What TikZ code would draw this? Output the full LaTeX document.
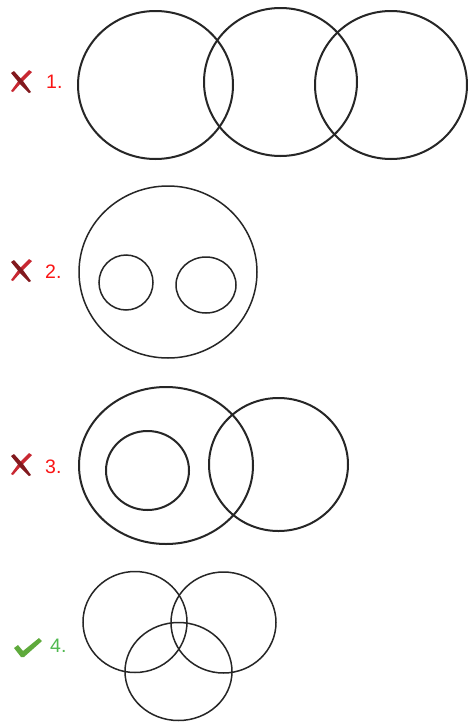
\documentclass[tikz,border=0pt]{standalone}
\usepackage{fontspec}
\setmainfont{Liberation Sans}
\definecolor{badred}{RGB}{250,20,20}
\definecolor{goodgreen}{RGB}{80,185,80}
\definecolor{xred}{RGB}{200,40,50}
\definecolor{xdark}{RGB}{130,25,30}
\definecolor{chk}{RGB}{95,170,60}
\begin{document}
\begin{tikzpicture}[x=1pt,y=-1pt,
  thick ring/.style={draw=black!85,line width=2pt},
  thin ring/.style={draw=black!85,line width=1.5pt},
  badlabel/.style={anchor=west,inner sep=0pt,text=badred,font=\fontsize{19.5}{22}\selectfont},
  goodlabel/.style={anchor=west,inner sep=0pt,text=goodgreen,font=\fontsize{19.5}{22}\selectfont},
  xmark/.style={fill=xred,draw=none},
  xmarkdark/.style={fill=xdark,draw=none},
  cmark/.style={fill=chk,draw=none}]
\useasboundingbox[fill=white] (0,0) rectangle (467,723);

% --- row 1 ---
\draw[thick ring] (155.5,85) ellipse [x radius=77.5,y radius=74];
\draw[thick ring] (280.5,82) ellipse [x radius=76.5,y radius=74];
\draw[thick ring] (391,85) ellipse [x radius=76,y radius=74];
\node[badlabel] (l1) at (46,82) {1.};

% --- row 2 ---
\draw[thin ring] (168,272) ellipse [x radius=89,y radius=86];
\draw[thin ring] (126,282.5) ellipse [x radius=27,y radius=27.5];
\draw[thin ring] (206,285) ellipse [x radius=30,y radius=28];
\node[badlabel] (l2) at (45,271.5) {2.};

% --- row 3 ---
\draw[thick ring] (166,465.5) ellipse [x radius=87,y radius=78.5];
\draw[thick ring] (147.5,470.5) ellipse [x radius=41.5,y radius=39.5];
\draw[thick ring] (278.5,464.5) ellipse [x radius=69.5,y radius=66.5];
\node[badlabel] (l3) at (45,466.5) {3.};

% --- row 4 ---
\draw[thin ring] (135,622) ellipse [x radius=52,y radius=50.5];
\draw[thin ring] (223.5,622.5) ellipse [x radius=52.5,y radius=50.5];
\draw[thin ring] (178.5,671.5) ellipse [x radius=53.5,y radius=49];
\node[goodlabel] (l4) at (50,645.5) {4.};

% --- cross marks ---
\foreach \yy in {81,270,464}{
  \begin{scope}[shift={(21,\yy)}]
    \fill[xmark] (8,-11) -- (11,-9) -- (0,2) -- (-8,11) -- (-10,10) -- (-2,-1) -- cycle;
    \fill[xmarkdark] (-10,-8) -- (-7,-10) -- (2,0) -- (10,11) -- (8,12) -- (-1,3) -- cycle;
  \end{scope}
}

% --- check mark ---
\fill[cmark] (14,648) -- (18,645) -- (23,651) -- (39,638) -- (42,641) -- (24,657) -- (21,657) -- cycle;
\end{tikzpicture}
\end{document}
